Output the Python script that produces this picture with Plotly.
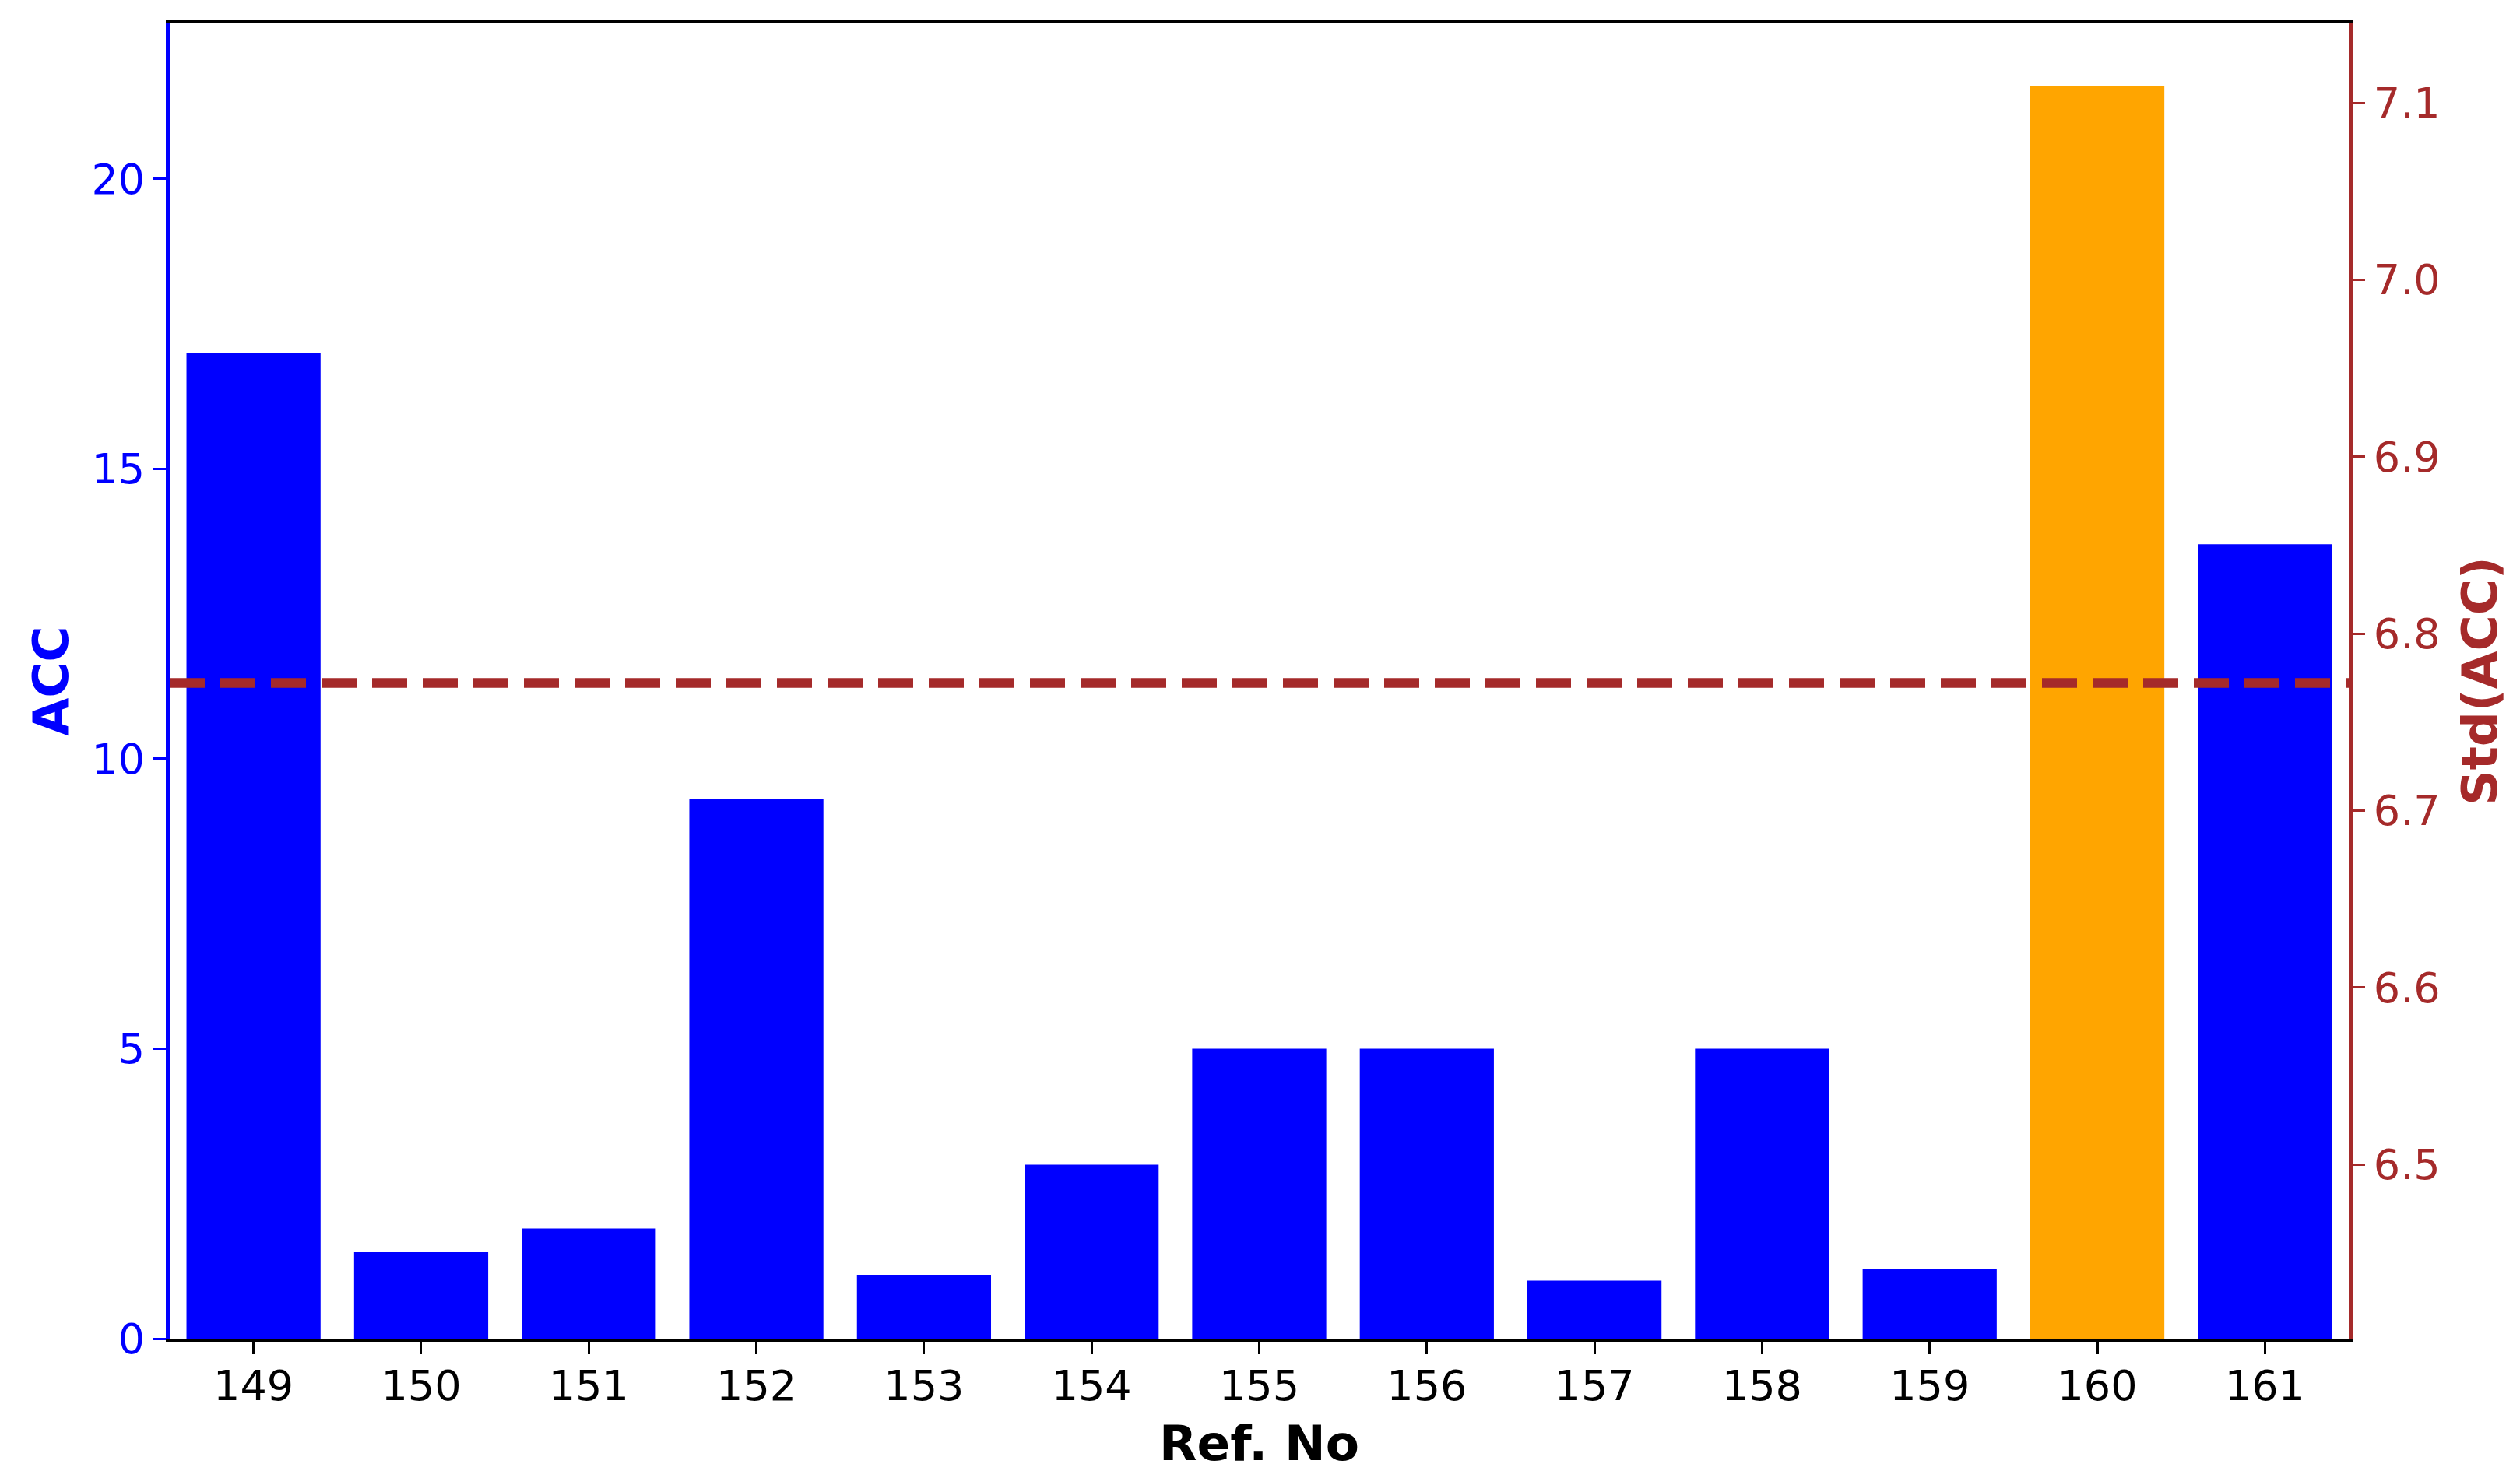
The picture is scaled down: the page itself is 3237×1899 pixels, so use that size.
import statistics

import plotly.graph_objects as go

# ── data ────────────────────────────────────────────────────────────────────
ref_no = ["149", "150", "151", "152", "153", "154", "155",
          "156", "157", "158", "159", "160", "161"]
acc = [17.0, 1.5, 1.9, 9.3, 1.1, 3.0, 5.0, 5.0, 1.0, 5.0, 1.2, 21.6, 13.7]
acc_ticks = [0, 5, 10, 15, 20]
std_ticks = [6.5, 6.6, 6.7, 6.8, 6.9, 7.0, 7.1]

# ── theme ───────────────────────────────────────────────────────────────────
BLUE = "#0000FF"
ORANGE = "#FFA500"
BROWN = "#A52A2A"
FONT = "DejaVu Sans"
TICK_SIZE = 54
LABEL_SIZE = 63

std_acc = statistics.stdev(acc)
peak = max(acc)
bar_colors = [ORANGE if v == peak else BLUE for v in acc]

fig = go.Figure()

fig.add_trace(go.Bar(
    x=ref_no, y=acc,
    marker=dict(color=bar_colors, line=dict(width=0)),
    width=0.8,
    showlegend=False,
))

# invisible trace so the secondary axis gets drawn
fig.add_trace(go.Scatter(
    x=[ref_no[0]], y=[std_acc], yaxis="y2",
    mode="markers", marker=dict(opacity=0),
    showlegend=False, hoverinfo="skip",
))

# std line across the whole plot, on the right axis
fig.add_shape(
    type="line", xref="x domain", yref="y2",
    x0=0, x1=1, y0=std_acc, y1=std_acc,
    line=dict(color=BROWN, width=12.5, dash="45px,20px"),
)

# page body has an 8px margin, margins below compensate for it
fig.update_layout(
    width=3237, height=1899,
    paper_bgcolor="white", plot_bgcolor="white",
    margin=dict(l=210, r=228, t=22, b=187),
    font=dict(family=FONT, size=TICK_SIZE, color="black"),
    bargap=0.2,
    xaxis=dict(
        type="category",
        range=[-0.5, len(ref_no) - 0.5],
        showgrid=False, zeroline=False,
        showline=True, linecolor="black", linewidth=4, mirror=True,
        ticks="outside", ticklen=16, tickwidth=3.3, tickcolor="black",
        ticklabelstandoff=-6,
        tickfont=dict(size=TICK_SIZE, color="black"),
        title=dict(text="<b>Ref. No</b>", standoff=22,
                   font=dict(size=LABEL_SIZE, color="black")),
    ),
    yaxis=dict(
        range=[0, peak * 1.05],
        tickvals=acc_ticks,
        showgrid=False, zeroline=False,
        showline=True, linecolor=BLUE, linewidth=5,
        ticks="outside", ticklen=16, tickwidth=3.3, tickcolor=BLUE,
        tickfont=dict(size=TICK_SIZE, color=BLUE),
        title=dict(text="<b>ACC</b>", standoff=11,
                   font=dict(size=LABEL_SIZE, color=BLUE)),
    ),
    yaxis2=dict(
        overlaying="y", side="right",
        range=[6.4015, 7.145],
        tickvals=std_ticks, tickformat=".1f",
        showgrid=False, zeroline=False,
        showline=True, linecolor=BROWN, linewidth=5,
        ticks="outside", ticklen=16, tickwidth=3.3, tickcolor=BROWN,
        tickfont=dict(size=TICK_SIZE, color=BROWN),
        title=dict(text="<b>Std(ACC)</b>", standoff=31,
                   font=dict(size=LABEL_SIZE, color=BROWN)),
    ),
)

fig.write_html("out.html")
